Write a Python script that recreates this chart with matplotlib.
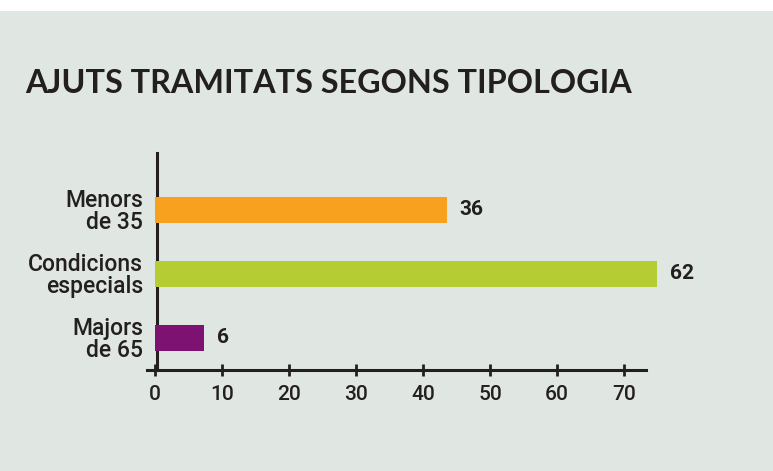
import matplotlib.pyplot as plt

categories = ["Majors\nde 65", "Condicions\nespecials", "Menors\nde 35"]
values = [6, 62, 36]
colors = ["#7d1273", "#b5cc33", "#f8a11e"]
xticks = [0, 10, 20, 30, 40, 50, 60, 70]

bg = "#e0e7e2"
ink = "#231f20"
plt.rcParams['font.family'] = ['Lato', 'DejaVu Sans']
lab_font = dict(family=['Roboto', 'DejaVu Sans'], weight='medium')

fig = plt.figure(figsize=(7.73, 4.71), dpi=100)
fig.patch.set_facecolor("white")
# grey panel under the white strip at the top
fig.patches.append(plt.Rectangle((0, 0), 1, 1 - 11 / 471, transform=fig.transFigure,
                                 facecolor=bg, edgecolor="none", zorder=-10))

W, H = 773, 471
ax = fig.add_axes([147 / W, (H - 370) / H, (646 - 147) / W, (370 - 153) / H])
ax.set_facecolor("none")
ax.set_xlim(-8 / 6.7, 491 / 6.7)
ax.set_ylim(-0.5, 2.89)

# bars sit on their own (hidden) scale, as in the original graphic
bx = ax.twiny()
bx.set_xlim(-8 / 8.1, 491 / 8.1)
bx.axis("off")
ypos = range(len(categories))
bars = bx.barh(ypos, values, height=0.42, color=colors)
for b in bars:
    b.set_clip_on(False)
for y, v in zip(ypos, values):
    bx.text(v + 1.6, y, str(v), va="center", ha="left", fontsize=15,
            family=['Roboto', 'DejaVu Sans'], fontweight="bold", color=ink,
            clip_on=False)

for s in ["top", "right"]:
    ax.spines[s].set_visible(False)
ax.spines["left"].set_position(("data", 0.3))
ax.spines["left"].set_linewidth(2.2)
ax.spines["bottom"].set_linewidth(2.2)
ax.spines["left"].set_color(ink)
ax.spines["bottom"].set_color(ink)

ax.set_xticks(xticks)
ax.set_xticklabels([str(t) for t in xticks], **lab_font)
ax.tick_params(axis="x", direction="inout", length=9, width=2, color=ink,
               labelsize=15, labelcolor=ink, pad=6)
ax.set_yticks(list(ypos))
ax.set_yticklabels(categories, linespacing=0.9, **lab_font)
ax.tick_params(axis="y", length=0, labelsize=16.5, labelcolor=ink, pad=10)

fig.text(25 / W, 1 - 93 / H, "AJUTS TRAMITATS SEGONS TIPOLOGIA", fontsize=23.3,
         fontweight="bold", color=ink, va="baseline", ha="left")

fig.savefig("out.png", dpi=100, facecolor=fig.get_facecolor())
